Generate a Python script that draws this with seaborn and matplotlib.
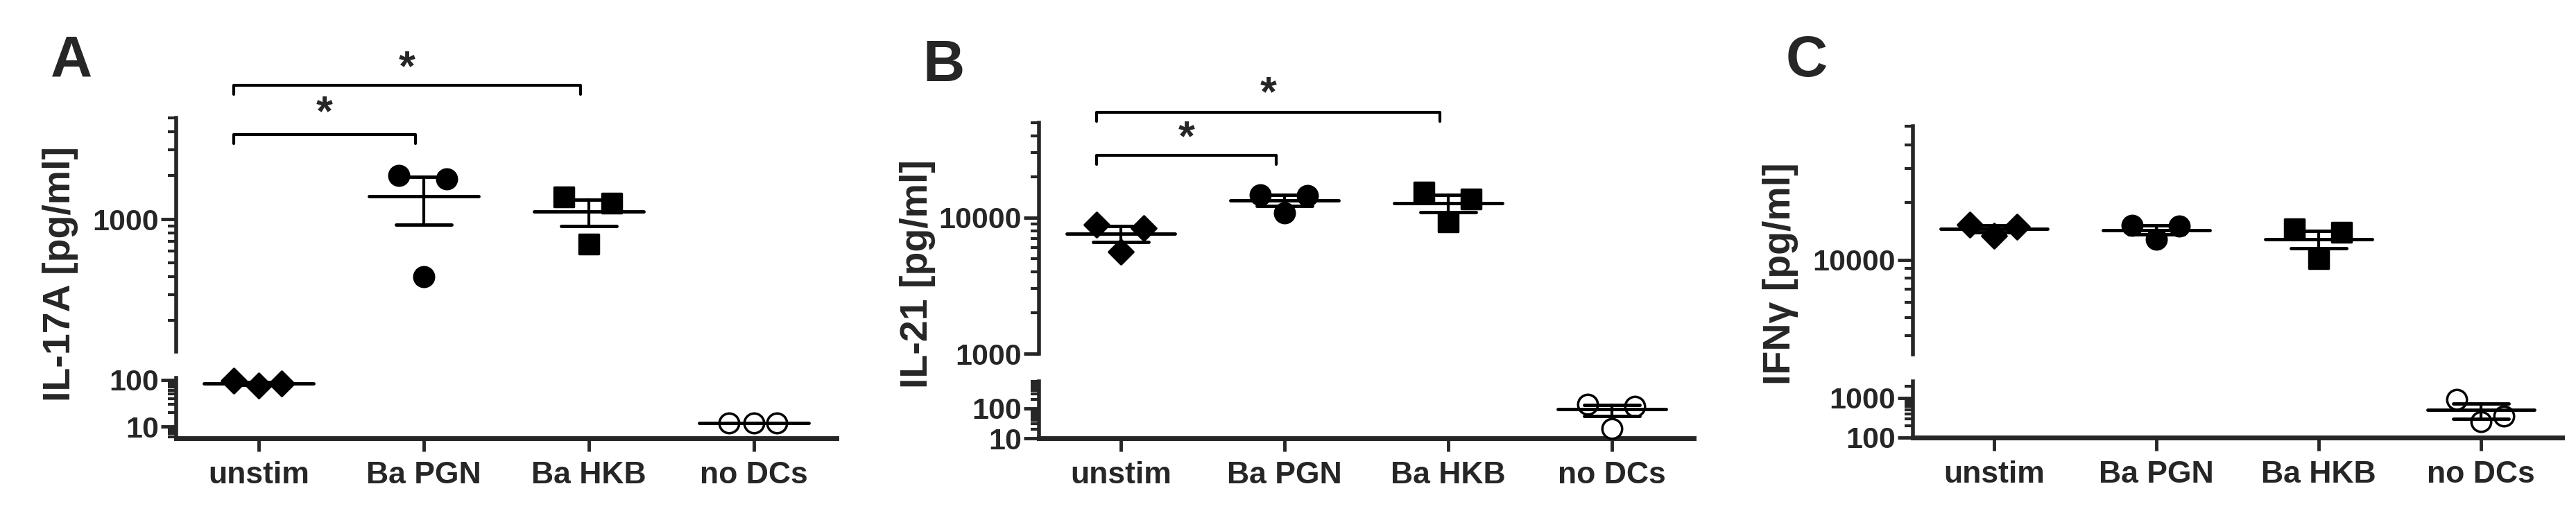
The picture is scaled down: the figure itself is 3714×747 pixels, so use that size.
import matplotlib
matplotlib.use("Agg")
import matplotlib.pyplot as plt
import matplotlib.ticker as mt
import matplotlib.transforms as mtrans
import seaborn as sns
import numpy as np
import pandas as pd

sns.set_style("ticks")
plt.rcParams['font.family'] = ['Liberation Sans', 'DejaVu Sans']
plt.rcParams['font.weight'] = 'bold'

categories = ["unstim", "Ba PGN", "Ba HKB", "no DCs"]
il17a = {"unstim": [95, 75, 85], "Ba PGN": [2000, 400, 1900],
         "Ba HKB": [1425, 670, 1285], "no DCs": [12, 12, 12]}
il21 = {"unstim": [8900, 5600, 8400], "Ba PGN": [14800, 10900, 14500],
        "Ba HKB": [15500, 9300, 13800], "no DCs": [135, 21, 120]}
ifng = {"unstim": [15300, 13300, 14900], "Ba PGN": [15200, 12800, 15000],
        "Ba HKB": [14500, 10100, 13900], "no DCs": [906, 255, 342]}
jitter = [-0.15, 0.0, 0.14]
markers = ["D", "o", "s", "o"]

W, H = 3714, 747
fig = plt.figure(figsize=(W / 100, H / 100), dpi=100)

def ax_px(x0, x1, ytop, ybot):
    return fig.add_axes([x0 / W, 1 - ybot / H, (x1 - x0) / W, (ybot - ytop) / H])

panels = [
    dict(data=il17a, x0=254, x1=1206, up=(170, 507), lo=(545, 632),
         uylim=(122, 5000), lylim=(5.6, 110), label="IL-17A [pg/ml]", lx=87, letter="A", letx=103, lety=88,
         brackets=[(1.14, 1.21, 2), (0.93, 1.015, 1)]),
    dict(data=il21, x0=1498, x1=2442, up=(177, 510), lo=(550, 632),
         uylim=(1000, 50000), lylim=(10, 800), label="IL-21 [pg/ml]", lx=1323, letter="B", letx=1360, lety=95,
         brackets=[(1.045, 1.12, 2), (0.86, 0.93, 1)]),
    dict(data=ifng, x0=2758, x1=3694, up=(182, 511), lo=(550, 631),
         uylim=(3200, 50000), lylim=(100, 2600), label="IFNγ [pg/ml]", lx=2567, letter="C", letx=2605, lety=88,
         brackets=[]),
]

def style_log(ax):
    ax.set_yscale("log")
    ax.yaxis.set_major_locator(mt.LogLocator(base=10))
    ax.yaxis.set_minor_locator(mt.LogLocator(base=10, subs=np.arange(2, 10)))
    ax.yaxis.set_minor_formatter(mt.NullFormatter())
    ax.yaxis.set_major_formatter(mt.FuncFormatter(lambda v, p: f"{int(round(v))}"))
    ax.tick_params(axis="y", which="major", length=16, width=3.5, labelsize=31, pad=2)
    ax.tick_params(axis="y", which="minor", length=9, width=3)
    for lbl in ax.get_yticklabels():
        lbl.set_fontweight("bold")

for p in panels:
    rows = []
    for c in categories:
        for j, v in enumerate(p["data"][c]):
            rows.append(dict(cat=c, pos=categories.index(c) + jitter[j], val=v))
    df = pd.DataFrame(rows)
    axu = ax_px(p["x0"], p["x1"], *p["up"])
    axl = ax_px(p["x0"], p["x1"], *p["lo"])
    for ax, ylim in ((axu, p["uylim"]), (axl, p["lylim"])):
        for i, c in enumerate(categories):
            vals = np.array(p["data"][c], float)
            sub = df[(df.cat == c) & (df.val >= ylim[0]) & (df.val <= ylim[1])]
            filled = c != "no DCs"
            if len(sub):
                sns.scatterplot(data=sub, x="pos", y="val", ax=ax, marker=markers[i],
                                s=320 if markers[i] == "D" else (380 if markers[i] == "s" else 420),
                                color="black" if filled else "white", edgecolor="black", linewidth=2.5,
                                legend=False, zorder=3, clip_on=False)
            m = vals.mean()
            se = vals.std(ddof=1) / np.sqrt(len(vals))
            ax.plot([i - 0.33, i + 0.33], [m, m], color="black", lw=3.5, zorder=4)
            ax.plot([i - 0.17, i + 0.17], [m + se, m + se], color="black", lw=3.5, zorder=4)
            ax.plot([i - 0.17, i + 0.17], [max(m - se, 1e-3), max(m - se, 1e-3)], color="black", lw=3.5, zorder=4)
            ax.plot([i, i], [max(m - se, 1e-3), m + se], color="black", lw=3, zorder=4)
        style_log(ax)
        ax.set_ylim(*ylim)
        ax.set_xlim(-0.5, 3.5)
        ax.set_xlabel("")
        ax.set_ylabel("")
        sns.despine(ax=ax)
        ax.spines["left"].set_linewidth(4)
        ax.spines["bottom"].set_linewidth(5)
        ax.patch.set_alpha(0)
    axu.spines["bottom"].set_visible(False)
    axu.set_xticks([])
    axl.set_xticks(range(len(categories)))
    axl.set_xticklabels(categories, fontsize=32, fontweight="bold")
    axl.tick_params(axis="x", length=14, width=3.5, pad=10)
    fig.text(p["lx"] / W, 1 - 395 / H, p["label"], rotation=90, ha="center", va="center",
             fontsize=40, fontweight="bold")
    fig.text(p["letx"] / W, 1 - p["lety"] / H, p["letter"], ha="center", va="center",
             fontsize=60, fontweight="bold")
    tr = mtrans.blended_transform_factory(axu.transData, axu.transAxes)
    for (yb, ys, end) in p["brackets"]:
        xa, xb = -0.15, end - 0.05
        axu.plot([xa, xa, xb, xb], [yb - 0.04, yb, yb, yb - 0.04], transform=tr,
                 color="black", lw=3, clip_on=False)
        axu.text((xa + xb) / 2, ys, "*", transform=tr, ha="center", va="center",
                 fontsize=44, fontweight="bold")

fig.savefig("out.png", dpi=100)
